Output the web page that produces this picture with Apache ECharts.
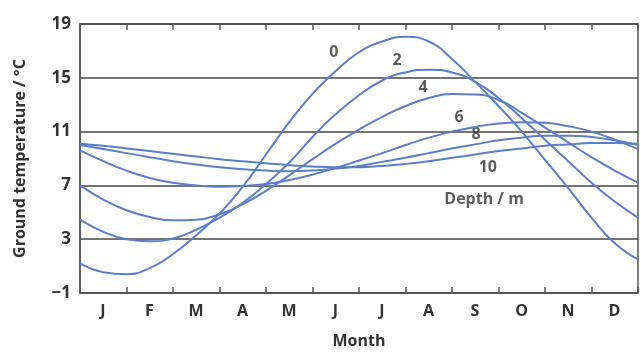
<!DOCTYPE html>
<html>
<head>
<meta charset="utf-8">
<script src="https://cdn.jsdelivr.net/npm/echarts@6/dist/echarts.min.js"></script>
<style>html,body{margin:0;padding:0;background:#fff}#c{width:642px;height:354px}</style>
</head>
<body>
<div id="c"></div>
<script>
var months = ['J','F','M','A','M','J','J','A','S','O','N','D'];
var t = [0,0.5,1,1.5,2,2.5,3,3.5,4,4.5,5,5.5,6,6.5,7,7.5,8,8.5,9,9.5,10,10.5,11,11.5,12];
var depth0  = [1.2,0.55,0.4,0.85,1.9,3.3,4.9,6.9,9.3,11.7,13.8,15.5,16.9,17.7,18.05,17.7,16.4,14.7,12.9,11.0,8.9,6.8,4.6,2.7,1.5];
var depth2  = [4.45,3.55,3.0,2.85,3.05,3.7,4.6,5.7,7.1,8.7,10.6,12.3,13.7,14.8,15.4,15.6,15.4,14.7,13.5,12.0,10.4,8.8,7.2,5.8,4.6];
var depth4  = [7.0,5.95,5.15,4.65,4.4,4.45,4.85,5.6,6.6,7.75,8.95,10.1,11.15,12.1,12.9,13.5,13.8,13.75,13.35,12.4,11.3,10.2,9.1,8.1,7.2];
var depth6  = [9.6,8.8,8.1,7.55,7.2,7.0,6.9,6.95,7.1,7.4,7.8,8.3,8.85,9.4,10.0,10.55,11.0,11.35,11.6,11.7,11.65,11.4,11.0,10.4,9.7];
var depth8  = [10.0,9.7,9.4,9.1,8.8,8.55,8.35,8.2,8.1,8.05,8.1,8.25,8.45,8.75,9.05,9.4,9.75,10.05,10.35,10.55,10.7,10.7,10.6,10.35,10.0];
var depth10 = [10.1,9.95,9.75,9.55,9.35,9.15,8.95,8.8,8.65,8.5,8.4,8.35,8.35,8.45,8.6,8.8,9.05,9.3,9.55,9.75,9.95,10.05,10.15,10.15,10.1];
var curveLabels = ['0','2','4','6','8','10','Depth / m'];
var labelT = [5.46,6.82,7.38,8.15,8.52,8.77,8.69];
var labelV = [16.85,16.27,14.27,12.05,10.76,8.32,5.95];

var FONT = 'Open Sans';
var AX = '#555';
var series = [depth0,depth2,depth4,depth6,depth8,depth10].map(function(arr){
  return {
    type:'line', smooth:true, symbol:'none',
    lineStyle:{color:'#5a7fc6', width:2},
    data: arr.map(function(v,i){return [t[i], v];})
  };
});
series.push({
  type:'scatter', symbolSize:0, silent:true,
  label:{show:true, position:'inside', formatter:function(p){return p.name;}, color:'#333', fontSize:16, fontFamily:FONT, fontWeight:'bold'},
  data: curveLabels.map(function(s,i){return {name:s, value:[labelT[i], labelV[i]]};})
});

var chart = echarts.init(document.getElementById('c'));
chart.setOption({
  animation:false,
  grid:{left:80, right:4, top:24, bottom:51, show:true, borderColor:AX, borderWidth:1.5},
  xAxis:{type:'value', min:0, max:12, interval:1, position:'bottom',
    axisLine:{show:true, onZero:false, lineStyle:{color:AX, width:1.5}},
    axisTick:{show:true, inside:true, length:6, lineStyle:{color:AX, width:1.5}},
    axisLabel:{show:true, fontSize:16, color:'#333', margin:10, fontFamily:FONT, fontWeight:'bold',
      padding:[0,0,0,46],
      formatter:function(v){return v < 12 ? months[v] : '';}},
    splitLine:{show:true, lineStyle:{color:AX, width:1.5, type:[6, 267, 6, 100]}},
    name:'Month', nameLocation:'middle', nameGap:40,
    nameTextStyle:{fontSize:16, color:'#333', fontFamily:FONT, fontWeight:'bold'}},
  yAxis:{type:'value', min:-1, max:19, interval:4,
    axisLine:{show:true, onZero:false, lineStyle:{color:AX, width:1.5}},
    axisTick:{show:false},
    splitLine:{show:true, lineStyle:{color:'#444', width:1.5}},
    axisLabel:{fontSize:17, color:'#333', margin:9, fontFamily:FONT, fontWeight:'bold',
      formatter:function(v){return String(v).replace('-','\u2212');}},
    name:'Ground temperature / \u00B0C', nameLocation:'middle', nameGap:52,
    nameTextStyle:{fontSize:16, color:'#333', fontFamily:FONT, fontWeight:'bold'}},
  series:series
});
</script>
</body>
</html>
